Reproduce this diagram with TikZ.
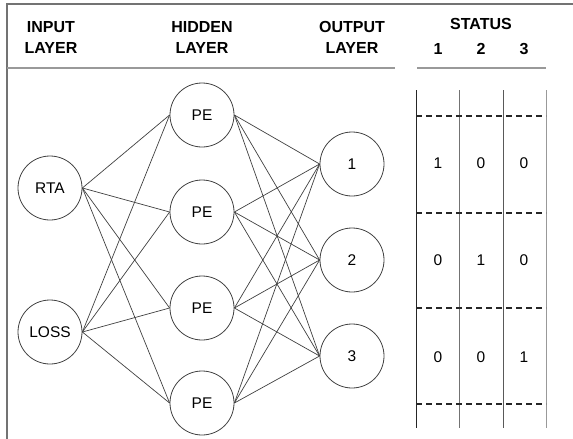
\documentclass[tikz,border=0pt]{standalone}
\usepackage{fontspec}
\setmainfont{Liberation Sans}

\begin{document}
\begin{tikzpicture}[x=1pt,y=-1pt,
    neuron/.style={draw=black!75,line width=0.8pt,circle,minimum size=64pt,inner sep=0pt,font=\fontsize{15.5}{18}\selectfont},
    head/.style={font=\bfseries\fontsize{16}{21}\selectfont,align=center,inner sep=0pt},
    cell/.style={font=\fontsize{15.5}{18}\selectfont,inner sep=0pt},
    wire/.style={black!75,line width=0.7pt}]
    \useasboundingbox (0,0) rectangle (573,439);
    % frame and header rules
    \draw[black!55,line width=1.5pt] (7,439) -- (7,4) -- (573,4);
    \draw[black!40,line width=1.5pt] (7,68) -- (395,68);
    \draw[black!40,line width=1.5pt] (417,68) -- (546,68);
    \node[head] (hin) at (51,37) {INPUT\\LAYER};
    \node[head] (hhid) at (202,37) {HIDDEN\\LAYER};
    \node[head] (hout) at (352,37) {OUTPUT\\LAYER};
    \node[head] (hstat) at (481,24) {STATUS};
    \foreach \c/\x in {1/438,2/481,3/524}
      \node[head] (hs\c) at (\x,49) {\c};
    % network
    \node[neuron] (in1) at (50,188) {RTA};
    \node[neuron] (in2) at (50,332) {LOSS};
    \foreach \i/\y in {1/115,2/212,3/308,4/403}
      \node[neuron] (h\i) at (202,\y) {PE};
    \foreach \i/\y in {1/164,2/260,3/356}
      \node[neuron] (o\i) at (352,\y) {\i};
    \foreach \a in {1,2}
      \foreach \b in {1,...,4}
        \draw[wire] (in\a.east) -- (h\b.west);
    \foreach \b in {1,...,4}
      \foreach \c in {1,2,3}
        \draw[wire] (h\b.east) -- (o\c.west);
    % status table
    \foreach \x/\col in {416/black!85,459/black!55,503/black!65,546/black!40}
      \draw[\col,line width=1pt] (\x,90) -- (\x,428);
    \foreach \y in {116,213,308,404}
      \draw[black!85,line width=1.6pt,dash pattern=on 6pt off 4pt] (416,\y) -- (546,\y);
    \foreach \r/\y in {1/163,2/260,3/357}
      \foreach \c/\x in {1/438,2/481,3/524}
        \node[cell] (v\r\c) at (\x,\y) {\ifnum\r=\c\relax 1\else 0\fi};
\end{tikzpicture}
\end{document}
